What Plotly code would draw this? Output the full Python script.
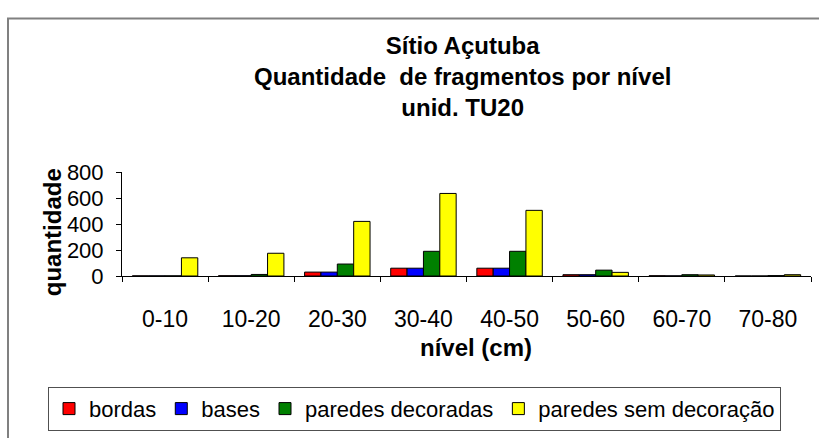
import plotly.graph_objects as go

# Fragment counts per excavation level, unit TU20
niveis = ["0-10", "10-20", "20-30", "30-40", "40-50", "50-60", "60-70", "70-80"]
bordas = [1, 2, 30, 60, 60, 10, 2, 0]
bases = [1, 2, 30, 60, 60, 10, 1, 0]
paredes_decoradas = [1, 12, 92, 190, 190, 45, 10, 3]
paredes_sem_decoracao = [140, 175, 420, 635, 505, 28, 8, 10]

y_ticks = [0, 200, 400, 600, 800]

FONT = "Liberation Sans, Arial, sans-serif"

series = [
    ("bordas", bordas, "#FF0000"),
    ("bases", bases, "#0000FF"),
    ("paredes decoradas", paredes_decoradas, "#008000"),
    ("paredes sem decoração", paredes_sem_decoracao, "#FFFF00"),
]

fig = go.Figure()
for name, vals, color in series:
    fig.add_trace(go.Bar(
        x=niveis, y=vals, name=name,
        marker=dict(color=color, line=dict(color="#000000", width=1)),
    ))

W, H = 819, 438
L, R, T, B = 122, 8, 172, 159
pw, ph = W - L - R, H - T - B


def px(x):
    return (x - L) / pw


def py(y):
    return (H - B - y) / ph


fig.update_layout(
    width=W, height=H,
    margin=dict(l=L, r=R, t=T, b=B, pad=0),
    paper_bgcolor="white", plot_bgcolor="white",
    barmode="group", bargap=0.24, bargroupgap=0,
    font=dict(family=FONT, color="#000000", size=22),
    showlegend=True,
    legend=dict(
        orientation="h", x=px(48), y=py(393), xanchor="left", yanchor="top",
        bordercolor="#505050", borderwidth=1, bgcolor="white",
        font=dict(size=22), itemwidth=30, traceorder="normal",
        tracegroupgap=0,
    ),
    xaxis=dict(
        type="category", showline=True, linecolor="#000000", linewidth=1,
        ticks="outside", ticklen=5, tickcolor="#000000", tickson="boundaries",
        showgrid=False, ticklabelstandoff=22, tickfont=dict(size=23),
    ),
    yaxis=dict(
        range=[0, 800], tickvals=y_ticks, showline=True, linecolor="#000000",
        linewidth=1, ticks="outside", ticklen=5, tickcolor="#000000",
        showgrid=False, zeroline=False, ticklabelstandoff=8,
        tickfont=dict(size=22),
    ),
    annotations=[
        dict(text="<b>Sítio Açutuba<br>Quantidade\u00a0 de fragmentos por nível<br>unid. TU20</b>",
             xref="paper", yref="paper", x=px(462), y=py(74), xanchor="center",
             yanchor="middle", showarrow=False, font=dict(size=24), align="center"),
        dict(text="<b>nível (cm)</b>", xref="paper", yref="paper",
             x=px(476), y=py(353), xanchor="center", yanchor="middle",
             showarrow=False, font=dict(size=24)),
        dict(text="<b>quantidade</b>", xref="paper", yref="paper",
             x=px(52), y=py(234), xanchor="center", yanchor="middle",
             textangle=-90, showarrow=False, font=dict(size=24)),
    ],
    shapes=[
        dict(type="rect", xref="paper", yref="paper",
             x0=px(8), x1=px(840), y0=py(14), y1=py(460),
             line=dict(color="#808080", width=2), layer="below"),
    ],
)

fig.write_html("out.html")
